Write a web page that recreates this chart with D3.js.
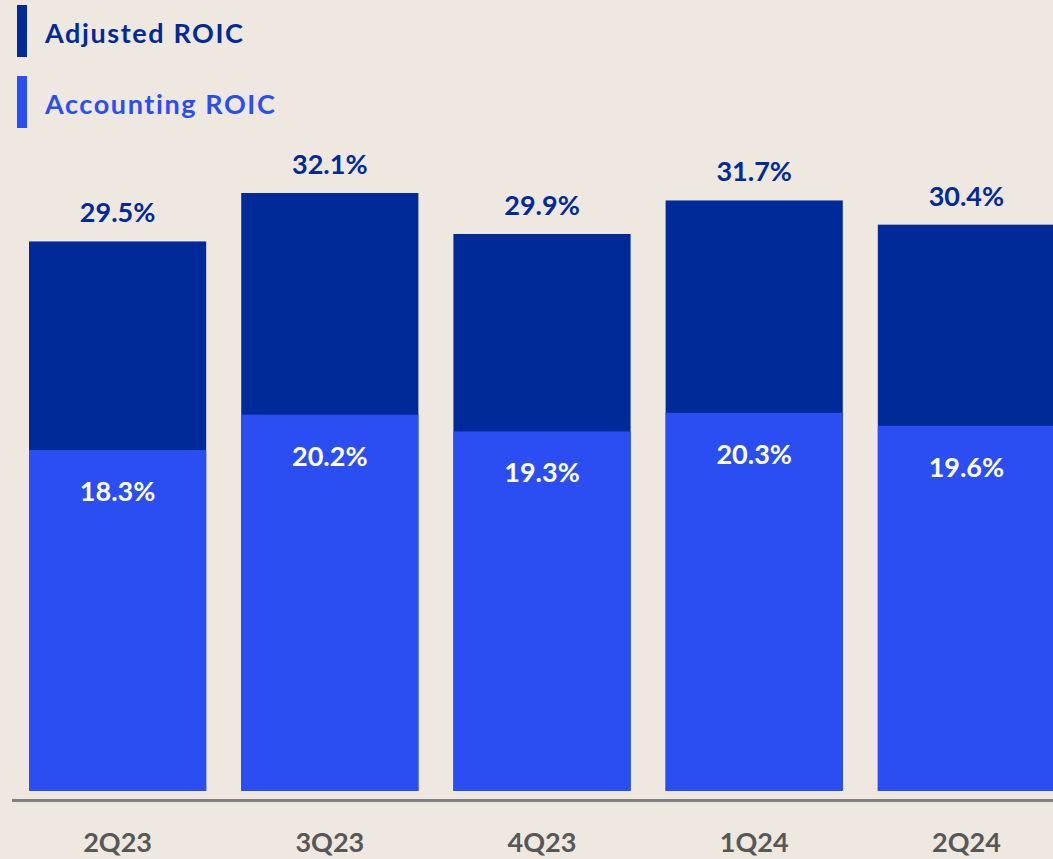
<!DOCTYPE html>
<html>
<head>
<meta charset="utf-8">
<script src="https://cdn.jsdelivr.net/npm/d3@7"></script>
<style>
  body { margin: 0; background: #eee8e1; }
  svg { display: block; font-family: "Lato", "Open Sans", sans-serif; }
</style>
</head>
<body>
<div id="chart"></div>
<script>
// chart data
var quarters = ["2Q23", "3Q23", "4Q23", "1Q24", "2Q24"];
var adjustedRoic = [29.5, 32.1, 29.9, 31.7, 30.4];
var accountingRoic = [18.3, 20.2, 19.3, 20.3, 19.6];
var seriesNames = ["Adjusted ROIC", "Accounting ROIC"];

var width = 1053;
var height = 859;
var darkBlue = "#002a98";
var brightBlue = "#2a4ef2";

var svg = d3.select("#chart")
  .append("svg")
  .attr("width", width)
  .attr("height", height);

svg.append("rect")
  .attr("width", width)
  .attr("height", height)
  .attr("fill", "#eee8e1");

var x = d3.scaleBand()
  .domain(quarters)
  .range([12, 1072])   // last bar runs off the right edge like the original
  .paddingInner(35 / 212)
  .paddingOuter(17 / 212);

var y = d3.scaleLinear()
  .domain([0, 32.1])
  .range([791, 193]);

var rows = quarters.map(function(q, i) {
  return { q: q, adj: adjustedRoic[i], acc: accountingRoic[i] };
});

// adjusted bars (full height)
svg.selectAll(".adj")
  .data(rows)
  .enter()
  .append("rect")
  .attr("class", "adj")
  .attr("x", function(d) { return x(d.q); })
  .attr("y", function(d) { return y(d.adj); })
  .attr("width", x.bandwidth())
  .attr("height", function(d) { return y(0) - y(d.adj); })
  .attr("fill", darkBlue);

// accounting bars on top
svg.selectAll(".acc")
  .data(rows)
  .enter()
  .append("rect")
  .attr("class", "acc")
  .attr("x", function(d) { return x(d.q); })
  .attr("y", function(d) { return y(d.acc); })
  .attr("width", x.bandwidth())
  .attr("height", function(d) { return y(0) - y(d.acc); })
  .attr("fill", brightBlue);

// value labels
svg.selectAll(".adjLabel")
  .data(rows)
  .enter()
  .append("text")
  .attr("x", function(d) { return x(d.q) + x.bandwidth() / 2; })
  .attr("y", function(d) { return y(d.adj) - 19; })
  .attr("text-anchor", "middle")
  .attr("font-size", 27)
  .attr("font-weight", 700)
  .attr("fill", darkBlue)
  .text(function(d) { return d.adj.toFixed(1) + "%"; });

svg.selectAll(".accLabel")
  .data(rows)
  .enter()
  .append("text")
  .attr("x", function(d) { return x(d.q) + x.bandwidth() / 2; })
  .attr("y", function(d) { return y(d.acc) + 51; })
  .attr("text-anchor", "middle")
  .attr("font-size", 27)
  .attr("font-weight", 700)
  .attr("fill", "#ffffff")
  .text(function(d) { return d.acc.toFixed(1) + "%"; });

// baseline
svg.append("line")
  .attr("x1", 12)
  .attr("x2", width)
  .attr("y1", 800.5)
  .attr("y2", 800.5)
  .attr("stroke", "#808080")
  .attr("stroke-width", 3);

// x axis labels
var xAxis = svg.append("g")
  .attr("transform", "translate(0,852)")
  .call(d3.axisBottom(x).tickSize(0).tickPadding(0));
xAxis.select(".domain").remove();
xAxis.selectAll("text")
  .attr("dy", 0)
  .attr("font-size", 27)
  .attr("font-weight", 700)
  .attr("font-family", "Lato, sans-serif")
  .attr("fill", "#575757");

// legend
var legend = svg.selectAll(".legend")
  .data(seriesNames)
  .enter()
  .append("g")
  .attr("transform", function(d, i) { return "translate(17," + (5 + i * 71) + ")"; });

legend.append("rect")
  .attr("width", 10)
  .attr("height", 52)
  .attr("fill", function(d, i) { return i === 0 ? darkBlue : brightBlue; });

legend.append("text")
  .attr("x", 28)
  .attr("y", 38)
  .attr("font-size", 27)
  .attr("font-weight", 700)
  .attr("letter-spacing", 1.6)
  .attr("fill", function(d, i) { return i === 0 ? darkBlue : brightBlue; })
  .text(function(d) { return d; });
</script>
</body>
</html>
